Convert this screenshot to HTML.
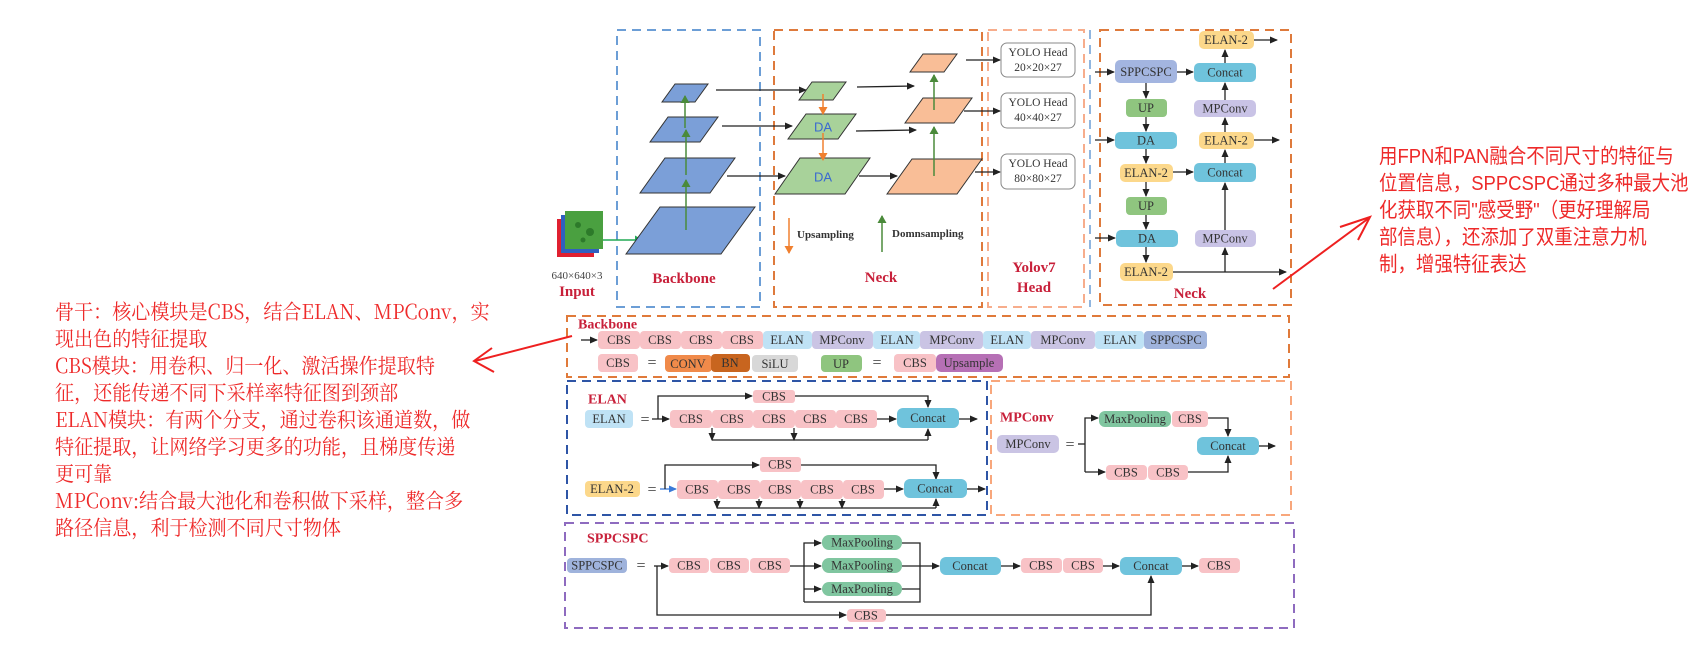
<!DOCTYPE html>
<html><head><meta charset="utf-8"><style>
html,body{margin:0;padding:0;background:#fff;}
body{width:1695px;height:646px;position:relative;overflow:hidden;}
svg{position:absolute;left:0;top:0;}
.t{font-family:"Liberation Serif",serif;font-size:12.5px;fill:#333;text-anchor:middle;dominant-baseline:central;}
.lbl{font-family:"Liberation Serif",serif;font-weight:bold;fill:#c8203a;}
.cn{position:absolute;color:#ee2a2a;white-space:nowrap;transform-origin:0 0;}
</style></head><body>
<div class="cn" style="left:55px;top:297px;font-family:'Noto Serif CJK SC','Liberation Serif',serif;font-size:20.5px;line-height:27px;transform:scaleX(0.93);">骨干：核心模块是CBS，结合ELAN、MPConv，实<br>现出色的特征提取<br>CBS模块：用卷积、归一化、激活操作提取特<br>征，还能传递不同下采样率特征图到颈部<br>ELAN模块：有两个分支，通过卷积该通道数，做<br>特征提取，让网络学习更多的功能，且梯度传递<br>更可靠<br>MPConv:结合最大池化和卷积做下采样，整合多<br>路径信息，利于检测不同尺寸物体</div>
<div class="cn" style="left:1379px;top:143px;font-family:'Liberation Sans','Noto Sans CJK SC',sans-serif;font-size:20.5px;line-height:27px;transform:scaleX(0.9);">用FPN和PAN融合不同尺寸的特征与<br>位置信息，SPPCSPC通过多种最大池<br>化获取不同"感受野"（更好理解局<br>部信息），还添加了双重注意力机<br>制，增强特征表达</div>
<svg width="1695" height="646" viewBox="0 0 1695 646">
<defs>
<marker id="a" markerWidth="8" markerHeight="8" refX="7" refY="4" orient="auto" markerUnits="userSpaceOnUse"><path d="M0,0.5 L8,4 L0,7.5 z" fill="#222"/></marker>
<marker id="ag" markerWidth="8" markerHeight="10" refX="7" refY="5" orient="auto" markerUnits="userSpaceOnUse"><path d="M0,0.5 L8,5 L0,9.5 z" fill="#4a8a3a"/></marker>
<marker id="ao" markerWidth="8" markerHeight="10" refX="7" refY="5" orient="auto" markerUnits="userSpaceOnUse"><path d="M0,0.5 L8,5 L0,9.5 z" fill="#f08030"/></marker>
<marker id="agr" markerWidth="8" markerHeight="10" refX="7" refY="5" orient="auto" markerUnits="userSpaceOnUse"><path d="M0,0.5 L8,5 L0,9.5 z" fill="#22aa55"/></marker>
<marker id="ab" markerWidth="8" markerHeight="8" refX="7" refY="4" orient="auto" markerUnits="userSpaceOnUse"><path d="M0,0.5 L8,4 L0,7.5 z" fill="#3a7ad8"/></marker>
</defs>
<g fill="none" stroke-width="2" stroke-dasharray="9,6">
<rect x="617" y="30" width="143" height="277" stroke="#6c9ed6"/>
<rect x="774" y="30" width="208" height="277" stroke="#de7a3c"/>
<rect x="988" y="30" width="96" height="277" stroke="#f7ad8c"/>
<line x1="1090" y1="30" x2="1090" y2="307" stroke="#6c9ed6" stroke-width="1.5"/>
<rect x="1100" y="30" width="191" height="275" stroke="#de7a3c"/>
<rect x="567" y="316" width="722" height="61" stroke="#e07a3a"/>
<rect x="567" y="381" width="420" height="134" stroke="#2e55a6"/>
<rect x="991" y="381" width="300" height="134" stroke="#f8a77c"/>
<rect x="565" y="523" width="729" height="105" stroke="#8e6bbf"/>
</g>
<!-- input -->
<rect x="557" y="219" width="37" height="38" fill="#e02030"/>
<rect x="561" y="215" width="38" height="38" fill="#3060c0"/>
<rect x="565" y="211" width="38" height="38" fill="#4aa040"/>
<circle cx="578" cy="225" r="3" fill="#2d7a2a"/><circle cx="590" cy="232" r="4" fill="#2d7a2a"/><circle cx="583" cy="240" r="2.5" fill="#2d7a2a"/>
<line x1="603" y1="240" x2="642" y2="240" stroke="#22aa55" stroke-width="1.5" marker-end="url(#agr)"/>
<text x="577" y="276" class="t" style="font-size:11px;fill:#444">640×640×3</text>
<text x="577" y="292" class="lbl" text-anchor="middle" dominant-baseline="central" style="font-size:15px">Input</text>
<!-- backbone parallelograms -->
<g fill="#7b9fd8" stroke="#333" stroke-width="1">
<polygon points="626,254 660,207 755,207 721,254"/>
<polygon points="640,193 665,158 735,158 710,193"/>
<polygon points="650,142 668,117 718,117 700,142"/>
<polygon points="662,102 675,84 708,84 695,102"/>
</g>
<g stroke="#4a8a3a" stroke-width="1.5">
<line x1="686" y1="230" x2="686" y2="180" marker-end="url(#ag)"/>
<line x1="686" y1="175" x2="686" y2="130" marker-end="url(#ag)"/>
<line x1="685" y1="128" x2="685" y2="96" marker-end="url(#ag)"/>
</g>
<text x="684" y="279" class="lbl" text-anchor="middle" dominant-baseline="central" style="font-size:15px">Backbone</text>
<!-- neck -->
<g stroke="#222" stroke-width="1.3">
<line x1="716" y1="90" x2="806" y2="90" marker-end="url(#a)"/>
<line x1="722" y1="126" x2="792" y2="126" marker-end="url(#a)"/>
<line x1="727" y1="176" x2="785" y2="176" marker-end="url(#a)"/>
<line x1="857" y1="87" x2="914" y2="86" marker-end="url(#a)"/>
<line x1="856" y1="131" x2="916" y2="130" marker-end="url(#a)"/>
<line x1="859" y1="176" x2="897" y2="176" marker-end="url(#a)"/>
</g>
<g fill="#a8d29a" stroke="#333" stroke-width="1">
<polygon points="799,100 812,82 846,82 833,100"/>
<polygon points="788,139 806,114 856,114 838,139"/>
<polygon points="775,194 800,158 870,158 845,194"/>
</g>
<text x="823" y="127" class="t" style="font-family:'Liberation Sans',sans-serif;font-size:13px;fill:#3a6ad0">DA</text>
<text x="823" y="177" class="t" style="font-family:'Liberation Sans',sans-serif;font-size:13px;fill:#3a6ad0">DA</text>
<g stroke="#f08030" stroke-width="1.5">
<line x1="823" y1="94" x2="823" y2="114" marker-end="url(#ao)"/>
<line x1="823" y1="133" x2="823" y2="160" marker-end="url(#ao)"/>
</g>
<g fill="#f9be97" stroke="#333" stroke-width="1">
<polygon points="910,72 923,54 957,54 944,72"/>
<polygon points="905,123 923,98 972,98 954,123"/>
<polygon points="887,194 912,159 982,159 957,194"/>
</g>
<g stroke="#4a8a3a" stroke-width="1.5">
<line x1="934" y1="176" x2="934" y2="127" marker-end="url(#ag)"/>
<line x1="934" y1="110" x2="934" y2="75" marker-end="url(#ag)"/>
</g>
<line x1="789" y1="218" x2="789" y2="253" stroke="#f08030" stroke-width="1.5" marker-end="url(#ao)"/>
<text x="797" y="235" class="lbl" style="font-size:11px;fill:#333;dominant-baseline:central">Upsampling</text>
<line x1="882" y1="252" x2="882" y2="216" stroke="#4a8a3a" stroke-width="1.5" marker-end="url(#ag)"/>
<text x="892" y="234" class="lbl" style="font-size:11px;fill:#333;dominant-baseline:central">Domnsampling</text>
<text x="881" y="278" class="lbl" text-anchor="middle" dominant-baseline="central" style="font-size:15px">Neck</text>
<!-- heads -->
<g stroke="#222" stroke-width="1.3">
<line x1="966" y1="60" x2="1000" y2="60" marker-end="url(#a)"/>
<line x1="964" y1="111" x2="1000" y2="111" marker-end="url(#a)"/>
<line x1="975" y1="172" x2="1000" y2="172" marker-end="url(#a)"/>
</g>
<g fill="#fff" stroke="#888" stroke-width="1">
<rect x="1001" y="43" width="74" height="34" rx="6"/>
<rect x="1001" y="93" width="74" height="35" rx="6"/>
<rect x="1001" y="154" width="74" height="35" rx="6"/>
</g>
<text x="1038" y="53" class="t" style="font-size:11.5px">YOLO Head</text><text x="1038" y="68" class="t" style="font-size:11.5px">20×20×27</text>
<text x="1038" y="103" class="t" style="font-size:11.5px">YOLO Head</text><text x="1038" y="118" class="t" style="font-size:11.5px">40×40×27</text>
<text x="1038" y="164" class="t" style="font-size:11.5px">YOLO Head</text><text x="1038" y="179" class="t" style="font-size:11.5px">80×80×27</text>
<text x="1034" y="268" class="lbl" text-anchor="middle" dominant-baseline="central" style="font-size:15px">Yolov7</text>
<text x="1034" y="288" class="lbl" text-anchor="middle" dominant-baseline="central" style="font-size:15px">Head</text>
<!-- right neck -->
<g stroke="#222" stroke-width="1.3">
<line x1="1095" y1="72" x2="1114" y2="72" marker-end="url(#a)"/>
<line x1="1095" y1="140" x2="1114" y2="140" marker-end="url(#a)"/>
<line x1="1095" y1="238" x2="1115" y2="238" marker-end="url(#a)"/>
<line x1="1177" y1="72" x2="1193" y2="72" marker-end="url(#a)"/>
<line x1="1146" y1="83" x2="1146" y2="98" marker-end="url(#a)"/>
<line x1="1146" y1="117" x2="1146" y2="131" marker-end="url(#a)"/>
<line x1="1146" y1="149" x2="1146" y2="163" marker-end="url(#a)"/>
<line x1="1146" y1="182" x2="1146" y2="196" marker-end="url(#a)"/>
<line x1="1146" y1="215" x2="1146" y2="229" marker-end="url(#a)"/>
<line x1="1146" y1="247" x2="1146" y2="262" marker-end="url(#a)"/>
<line x1="1173" y1="172" x2="1193" y2="172" marker-end="url(#a)"/>
<line x1="1225" y1="63" x2="1225" y2="50" marker-end="url(#a)"/>
<line x1="1225" y1="100" x2="1225" y2="83" marker-end="url(#a)"/>
<line x1="1225" y1="132" x2="1225" y2="118" marker-end="url(#a)"/>
<line x1="1225" y1="163" x2="1225" y2="150" marker-end="url(#a)"/>
<line x1="1225" y1="230" x2="1225" y2="183" marker-end="url(#a)"/>
<line x1="1225" y1="272" x2="1225" y2="248" marker-end="url(#a)"/>
<line x1="1173" y1="272" x2="1286" y2="272" marker-end="url(#a)"/>
<line x1="1254" y1="40" x2="1277" y2="40" marker-end="url(#a)"/>
<line x1="1254" y1="140" x2="1279" y2="140" marker-end="url(#a)"/>
</g>
<g>
<rect x="1115" y="60" width="62" height="23" rx="5" fill="#a3b5e0"/><text x="1146" y="72" class="t">SPPCSPC</text>
<rect x="1194" y="63" width="62" height="19" rx="5" fill="#6fc3dc"/><text x="1225" y="72.5" class="t">Concat</text>
<rect x="1199" y="31" width="55" height="18" rx="5" fill="#fcd88b"/><text x="1226" y="40" class="t">ELAN-2</text>
<rect x="1126" y="99" width="41" height="18" rx="4" fill="#8fc57f"/><text x="1146" y="108" class="t">UP</text>
<rect x="1194" y="100" width="62" height="17" rx="5" fill="#c9c3e6"/><text x="1225" y="108.5" class="t">MPConv</text>
<rect x="1115" y="132" width="62" height="17" rx="5" fill="#6fc3dc"/><text x="1146" y="140.5" class="t">DA</text>
<rect x="1199" y="132" width="55" height="17" rx="5" fill="#fcd88b"/><text x="1226" y="140.5" class="t">ELAN-2</text>
<rect x="1120" y="164" width="53" height="18" rx="5" fill="#fcd88b"/><text x="1146" y="173" class="t">ELAN-2</text>
<rect x="1194" y="163" width="62" height="19" rx="5" fill="#6fc3dc"/><text x="1225" y="172.5" class="t">Concat</text>
<rect x="1126" y="197" width="41" height="18" rx="4" fill="#8fc57f"/><text x="1146" y="206" class="t">UP</text>
<rect x="1116" y="230" width="62" height="17" rx="5" fill="#6fc3dc"/><text x="1147" y="238.5" class="t">DA</text>
<rect x="1195" y="230" width="61" height="17" rx="5" fill="#c9c3e6"/><text x="1225" y="238.5" class="t">MPConv</text>
<rect x="1120" y="263" width="53" height="18" rx="5" fill="#fcd88b"/><text x="1146" y="272" class="t">ELAN-2</text>
</g>
<text x="1190" y="294" class="lbl" text-anchor="middle" dominant-baseline="central" style="font-size:15px">Neck</text>
<!-- backbone row -->
<text x="578" y="325" class="lbl" style="font-size:14px;dominant-baseline:central">Backbone</text>
<line x1="581" y1="340" x2="597" y2="340" stroke="#222" stroke-width="1.3" marker-end="url(#a)"/>
<g>
<rect x="598" y="331" width="42" height="18" rx="4" fill="#f8c2c6"/><text x="619" y="340" class="t">CBS</text>
<rect x="640" y="331" width="41" height="18" rx="4" fill="#f8c2c6"/><text x="660" y="340" class="t">CBS</text>
<rect x="681" y="331" width="41" height="18" rx="4" fill="#f8c2c6"/><text x="701" y="340" class="t">CBS</text>
<rect x="722" y="331" width="41" height="18" rx="4" fill="#f8c2c6"/><text x="742" y="340" class="t">CBS</text>
<rect x="763" y="331" width="49" height="18" rx="4" fill="#bfe2f5"/><text x="787" y="340" class="t">ELAN</text>
<rect x="812" y="331" width="61" height="18" rx="4" fill="#cac4e4"/><text x="842" y="340" class="t">MPConv</text>
<rect x="873" y="331" width="47" height="18" rx="4" fill="#bfe2f5"/><text x="897" y="340" class="t">ELAN</text>
<rect x="920" y="331" width="63" height="18" rx="4" fill="#cac4e4"/><text x="952" y="340" class="t">MPConv</text>
<rect x="983" y="331" width="48" height="18" rx="4" fill="#bfe2f5"/><text x="1007" y="340" class="t">ELAN</text>
<rect x="1031" y="331" width="64" height="18" rx="4" fill="#cac4e4"/><text x="1063" y="340" class="t">MPConv</text>
<rect x="1095" y="331" width="49" height="18" rx="4" fill="#bfe2f5"/><text x="1120" y="340" class="t">ELAN</text>
<rect x="1144" y="331" width="63" height="18" rx="4" fill="#9fb3dc"/><text x="1176" y="340" class="t">SPPCSPC</text>
<rect x="598" y="354" width="40" height="18" rx="4" fill="#f8c2c6"/><text x="618" y="363" class="t">CBS</text>
<text x="652" y="363" class="t" style="font-size:16px">=</text>
<rect x="665" y="355" width="47" height="17" rx="4" fill="#f08a4a"/><text x="688" y="364" class="t">CONV</text>
<rect x="711" y="354" width="39" height="18" rx="4" fill="#c8651f"/><text x="730" y="363" class="t">BN</text>
<rect x="752" y="355" width="46" height="17" rx="4" fill="#d8d8d8"/><text x="775" y="364" class="t">SiLU</text>
<rect x="821" y="355" width="41" height="17" rx="4" fill="#8fc57f"/><text x="841" y="364" class="t">UP</text>
<text x="877" y="363" class="t" style="font-size:16px">=</text>
<rect x="894" y="354" width="42" height="18" rx="4" fill="#f8c2c6"/><text x="915" y="363" class="t">CBS</text>
<rect x="936" y="354" width="67" height="18" rx="5" fill="#b670b5"/><text x="969" y="363" class="t">Upsample</text>
</g>
<!-- ELAN -->
<text x="588" y="400" class="lbl" style="font-size:14px;dominant-baseline:central">ELAN</text>
<rect x="585" y="410" width="48" height="18" rx="4" fill="#bfe2f5"/><text x="609" y="419" class="t">ELAN</text>
<text x="645" y="420" class="t" style="font-size:16px">=</text>
<g stroke="#222" stroke-width="1.3" fill="none">
<line x1="652" y1="419" x2="669" y2="419" marker-end="url(#a)"/>
<polyline points="658,419 658,396 752,396" marker-end="url(#a)"/>
<polyline points="795,396 928,396 928,407" marker-end="url(#a)"/>
<line x1="877" y1="419" x2="896" y2="419" marker-end="url(#a)"/>
<line x1="959" y1="419" x2="977" y2="419" marker-end="url(#a)"/>
<polyline points="712,440 928,440"/>
<line x1="712" y1="428" x2="712" y2="440" marker-end="url(#a)"/>
<line x1="794" y1="428" x2="794" y2="440" marker-end="url(#a)"/>
<line x1="928" y1="440" x2="928" y2="429" marker-end="url(#a)"/>
</g>
<rect x="753" y="390" width="42" height="13" rx="3" fill="#f8c2c6"/><text x="774" y="396.5" class="t">CBS</text>
<rect x="670" y="410" width="42" height="18" rx="4" fill="#f8c2c6"/><text x="691" y="419" class="t">CBS</text>
<rect x="712" y="410" width="41" height="18" rx="4" fill="#f8c2c6"/><text x="732" y="419" class="t">CBS</text>
<rect x="753" y="410" width="42" height="18" rx="4" fill="#f8c2c6"/><text x="774" y="419" class="t">CBS</text>
<rect x="795" y="410" width="41" height="18" rx="4" fill="#f8c2c6"/><text x="815" y="419" class="t">CBS</text>
<rect x="836" y="410" width="41" height="18" rx="4" fill="#f8c2c6"/><text x="856" y="419" class="t">CBS</text>
<rect x="897" y="408" width="62" height="20" rx="6" fill="#6fc3dc"/><text x="928" y="418" class="t">Concat</text>
<!-- ELAN-2 -->
<rect x="585" y="481" width="55" height="16" rx="4" fill="#fcd88b"/><text x="612" y="489" class="t">ELAN-2</text>
<text x="652" y="490" class="t" style="font-size:16px">=</text>
<line x1="660" y1="489" x2="676" y2="489" stroke="#3a7ad8" stroke-width="1.3" marker-end="url(#ab)"/>
<g stroke="#222" stroke-width="1.3" fill="none">
<polyline points="665,489 665,465 759,465" marker-end="url(#a)"/>
<polyline points="801,465 936,465 936,479" marker-end="url(#a)"/>
<line x1="884" y1="489" x2="903" y2="489" marker-end="url(#a)"/>
<line x1="967" y1="489" x2="985" y2="489" marker-end="url(#a)"/>
<polyline points="717,508 936,508"/>
<line x1="717" y1="499" x2="717" y2="508" marker-end="url(#a)"/>
<line x1="759" y1="499" x2="759" y2="508" marker-end="url(#a)"/>
<line x1="800" y1="499" x2="800" y2="508" marker-end="url(#a)"/>
<line x1="842" y1="499" x2="842" y2="508" marker-end="url(#a)"/>
<line x1="936" y1="508" x2="936" y2="499" marker-end="url(#a)"/>
</g>
<rect x="760" y="457" width="41" height="15" rx="3" fill="#f8c2c6"/><text x="780" y="464.5" class="t">CBS</text>
<rect x="677" y="480" width="41" height="19" rx="4" fill="#f8c2c6"/><text x="697" y="489.5" class="t">CBS</text>
<rect x="718" y="480" width="42" height="19" rx="4" fill="#f8c2c6"/><text x="739" y="489.5" class="t">CBS</text>
<rect x="760" y="480" width="41" height="19" rx="4" fill="#f8c2c6"/><text x="780" y="489.5" class="t">CBS</text>
<rect x="801" y="480" width="42" height="19" rx="4" fill="#f8c2c6"/><text x="822" y="489.5" class="t">CBS</text>
<rect x="843" y="480" width="41" height="19" rx="4" fill="#f8c2c6"/><text x="863" y="489.5" class="t">CBS</text>
<rect x="904" y="479" width="63" height="19" rx="6" fill="#6fc3dc"/><text x="935" y="488.5" class="t">Concat</text>
<!-- MPConv -->
<text x="1000" y="418" class="lbl" style="font-size:14px;dominant-baseline:central">MPConv</text>
<rect x="997" y="435" width="62" height="18" rx="5" fill="#cac4e4"/><text x="1028" y="444" class="t">MPConv</text>
<text x="1070" y="445" class="t" style="font-size:16px">=</text>
<g stroke="#222" stroke-width="1.3" fill="none">
<polyline points="1078,444 1085,444"/>
<polyline points="1085,472 1085,418 1098,418" marker-end="url(#a)"/>
<polyline points="1085,472 1105,472" marker-end="url(#a)"/>
<polyline points="1208,418 1228,418 1228,436" marker-end="url(#a)"/>
<polyline points="1188,472 1228,472 1228,456" marker-end="url(#a)"/>
<line x1="1259" y1="446" x2="1275" y2="446" marker-end="url(#a)"/>
</g>
<rect x="1099" y="411" width="72" height="16" rx="6" fill="#80c6a0"/><text x="1135" y="419" class="t">MaxPooling</text>
<rect x="1172" y="411" width="36" height="16" rx="4" fill="#f8c2c6"/><text x="1190" y="419" class="t">CBS</text>
<rect x="1197" y="437" width="62" height="18" rx="6" fill="#6fc3dc"/><text x="1228" y="446" class="t">Concat</text>
<rect x="1106" y="465" width="41" height="15" rx="4" fill="#f8c2c6"/><text x="1126" y="472.5" class="t">CBS</text>
<rect x="1148" y="465" width="40" height="15" rx="4" fill="#f8c2c6"/><text x="1168" y="472.5" class="t">CBS</text>
<!-- SPPCSPC -->
<text x="587" y="539" class="lbl" style="font-size:14px;dominant-baseline:central">SPPCSPC</text>
<rect x="567" y="558" width="60" height="15" rx="4" fill="#9fb3dc"/><text x="597" y="565.5" class="t">SPPCSPC</text>
<text x="641" y="566" class="t" style="font-size:16px">=</text>
<g stroke="#222" stroke-width="1.3" fill="none">
<line x1="654" y1="566" x2="668" y2="566" marker-end="url(#a)"/>
<line x1="790" y1="566" x2="821" y2="566" marker-end="url(#a)"/>
<polyline points="804,602 804,543 821,543" marker-end="url(#a)"/>
<line x1="804" y1="589" x2="821" y2="589" marker-end="url(#a)"/>
<polyline points="804,602 920,602 920,543 902,543"/>
<line x1="902" y1="566" x2="939" y2="566" marker-end="url(#a)"/>
<line x1="902" y1="589" x2="920" y2="589"/>
<line x1="1001" y1="566" x2="1020" y2="566" marker-end="url(#a)"/>
<line x1="1103" y1="566" x2="1119" y2="566" marker-end="url(#a)"/>
<line x1="1182" y1="566" x2="1198" y2="566" marker-end="url(#a)"/>
<polyline points="657,566 657,615 846,615" marker-end="url(#a)"/>
<polyline points="886,615 1151,615 1151,576" marker-end="url(#a)"/>
</g>
<rect x="669" y="558" width="40" height="15" rx="4" fill="#f8c2c6"/><text x="689" y="565.5" class="t">CBS</text>
<rect x="710" y="558" width="39" height="15" rx="4" fill="#f8c2c6"/><text x="729" y="565.5" class="t">CBS</text>
<rect x="750" y="558" width="40" height="15" rx="4" fill="#f8c2c6"/><text x="770" y="565.5" class="t">CBS</text>
<rect x="822" y="535" width="80" height="15" rx="7" fill="#80c6a0"/><text x="862" y="542.5" class="t">MaxPooling</text>
<rect x="822" y="558" width="80" height="15" rx="7" fill="#80c6a0"/><text x="862" y="565.5" class="t">MaxPooling</text>
<rect x="822" y="582" width="80" height="14" rx="7" fill="#80c6a0"/><text x="862" y="589" class="t">MaxPooling</text>
<rect x="940" y="557" width="61" height="18" rx="6" fill="#6fc3dc"/><text x="970" y="566" class="t">Concat</text>
<rect x="1021" y="558" width="41" height="15" rx="4" fill="#f8c2c6"/><text x="1041" y="565.5" class="t">CBS</text>
<rect x="1063" y="558" width="40" height="15" rx="4" fill="#f8c2c6"/><text x="1083" y="565.5" class="t">CBS</text>
<rect x="1120" y="557" width="62" height="18" rx="6" fill="#6fc3dc"/><text x="1151" y="566" class="t">Concat</text>
<rect x="1199" y="558" width="41" height="15" rx="4" fill="#f8c2c6"/><text x="1219" y="565.5" class="t">CBS</text>
<rect x="847" y="609" width="39" height="13" rx="4" fill="#f8c2c6"/><text x="866" y="615.5" class="t">CBS</text>
<!-- red arrows -->
<g stroke="#ee2020" stroke-width="2" fill="none">
<line x1="572" y1="336" x2="475" y2="361"/>
<polyline points="492,348 474,361 494,372"/>
<line x1="1273" y1="289" x2="1369" y2="218"/>
<polyline points="1340,227 1370,217 1358,240"/>
</g>
</svg>
</body></html>
